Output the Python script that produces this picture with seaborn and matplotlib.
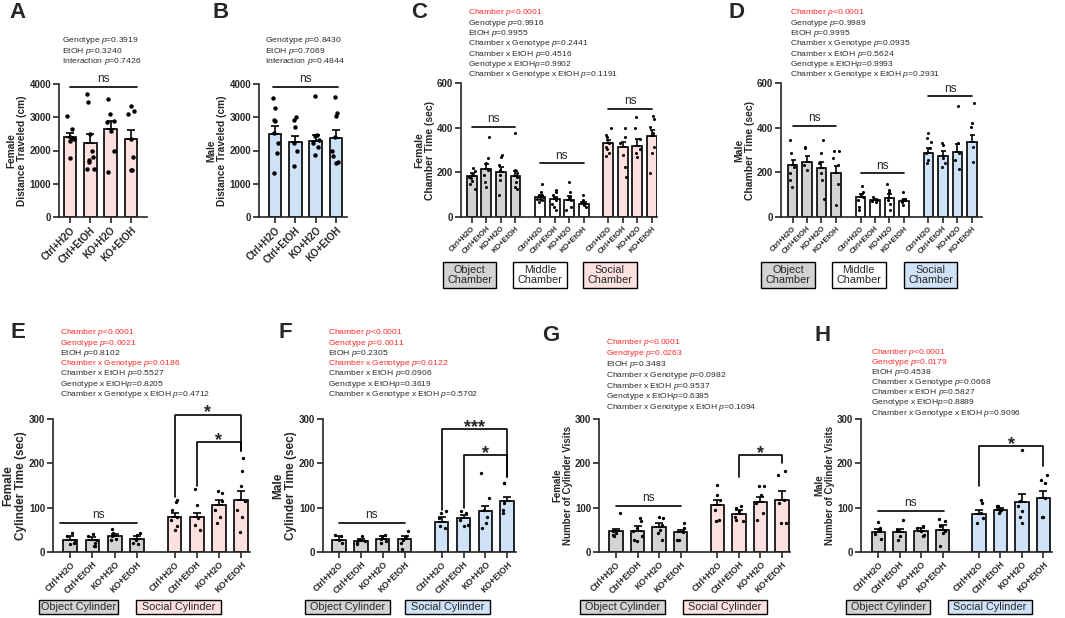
import numpy as np
import pandas as pd
import matplotlib
matplotlib.use('Agg')
import matplotlib.pyplot as plt
from matplotlib.patches import Rectangle
import seaborn as sns

groups = ['Ctrl+H2O', 'Ctrl+EtOH', 'KO+H2O', 'KO+EtOH']

# A - female distance traveled
a_mean = [2400, 2230, 2650, 2350]
a_sem = [130, 270, 230, 280]
a_pts = [[3050, 2650, 2400, 2380, 2350, 2300, 1780],
         [3700, 3450, 2500, 2000, 1800, 1650, 1450, 1700, 1450],
         [3550, 3100, 2900, 2850, 2600, 2000, 1350],
         [3350, 3200, 3100, 2350, 1800, 1400, 1400]]
a_stats = ['Genotype $p$=0.3919', 'EtOH $p$=0.3240', 'Interaction $p$=0.7426']

# B - male distance traveled
b_mean = [2490, 2250, 2300, 2370]
b_sem = [250, 190, 170, 250]
b_pts = [[3580, 3280, 2920, 2900, 2520, 2220, 1920, 1330],
         [3000, 2920, 2720, 2220, 1970, 1540],
         [3650, 2470, 2440, 2320, 2220, 2120, 1860],
         [3610, 3120, 3040, 2420, 2000, 1840, 1660, 1610]]
b_stats = ['Genotype $p$=0.8430', 'EtOH $p$=0.7069', 'Interaction $p$=0.4844']

# C - female chamber time (object / middle / social)
c_mean = [183, 217, 200, 183, 90, 80, 78, 60, 330, 315, 320, 363]
c_sem = [15, 22, 25, 25, 8, 10, 15, 7, 15, 22, 30, 27]
c_pts = [[220, 205, 190, 180, 175, 160, 150, 125],
         [360, 262, 240, 210, 187, 157, 135],
         [277, 270, 232, 210, 187, 165, 100],
         [378, 210, 195, 180, 157, 135, 127],
         [150, 112, 97, 90, 82, 75, 67, 80],
         [123, 112, 97, 75, 60, 45, 33],
         [157, 112, 90, 75, 45, 30],
         [97, 78, 67, 60, 52, 45],
         [397, 367, 360, 330, 315, 303, 285, 273],
         [397, 360, 330, 277, 225, 180],
         [447, 400, 348, 303, 285, 270],
         [453, 438, 405, 375, 315, 285, 195]]
c_stats = ['Chamber $p$<0.0001', 'Genotype $p$=0.9916', 'EtOH $p$=0.9955',
           'Chamber x Genotype $p$=0.2441', 'Chamber x EtOH $p$=0.4516',
           'Genotype x EtOH$p$=0.9902', 'Chamber x Genotype x EtOH $p$=0.1191']
c_red = [1, 0, 0, 0, 0, 0, 0]

# D - male chamber time
d_mean = [232, 247, 220, 198, 90, 75, 87, 70, 285, 274, 292, 337]
d_sem = [23, 26, 25, 31, 15, 5, 18, 12, 22, 21, 35, 30]
d_pts = [[345, 285, 225, 195, 165, 135],
         [307, 315, 232, 210],
         [345, 285, 240, 195, 165, 82],
         [295, 295, 262, 232, 150, 52],
         [138, 112, 105, 90, 75, 45, 30],
         [90, 78, 70, 67],
         [150, 120, 112, 75, 60, 30],
         [112, 82, 75, 67, 52],
         [375, 352, 337, 307, 285, 255, 240],
         [322, 330, 262, 240, 225],
         [498, 330, 285, 255, 217],
         [510, 423, 405, 315, 247]]
d_stats = ['Chamber $p$<0.0001', 'Genotype $p$=0.9989', 'EtOH $p$=0.9995',
           'Chamber x Genotype $p$=0.0935', 'Chamber x EtOH $p$=0.5624',
           'Genotype x EtOH$p$=0.9993', 'Chamber x Genotype x EtOH $p$=0.2931']
d_red = [1, 0, 0, 0, 0, 0, 0]

# E - female cylinder time
e_mean = [28, 28, 35, 29, 79, 79, 107, 118]
e_sem = [7, 5, 6, 8, 10, 10, 11, 19]
e_pts = [[43, 35, 28, 20, 17],
         [41, 35, 28, 20, 13, 14],
         [52, 43, 35, 29, 28],
         [43, 39, 28, 20, 17],
         [118, 112, 95, 80, 73, 58, 50],
         [141, 105, 77, 62, 50],
         [137, 133, 114, 95, 80, 65],
         [212, 182, 148, 114, 95, 80, 44]]
e_stats = ['Chamber $p$<0.0001', 'Genotype $p$=0.0021', 'EtOH $p$=0.8102',
           'Chamber x Genotype $p$=0.0186', 'Chamber x EtOH $p$=0.5527',
           'Genotype x EtOH$p$=0.8205', 'Chamber x Genotype x EtOH $p$=0.4712']
e_red = [1, 1, 0, 1, 0, 0, 0]

# F - male cylinder time
f_mean = [28, 24, 29, 29, 68, 77, 92, 116]
f_sem = [7, 5, 6, 8, 11, 7, 12, 9]
f_pts = [[39, 35, 28, 20],
         [35, 28, 24, 20, 17],
         [39, 37, 29, 24, 20],
         [47, 37, 28, 20, 7],
         [92, 88, 77, 58, 54],
         [92, 88, 73, 62, 58],
         [179, 122, 95, 80, 65, 54],
         [155, 155, 110, 95, 88]]
f_stats = ['Chamber $p$<0.0001', 'Genotype $p$=0.0011', 'EtOH $p$=0.2305',
           'Chamber x Genotype $p$=0.0122', 'Chamber x EtOH $p$=0.0906',
           'Genotype x EtOH$p$=0.3619', 'Chamber x Genotype x EtOH $p$=0.5702']
f_red = [1, 1, 0, 1, 0, 0, 0]

# G - female cylinder visits
g_mean = [47, 47, 56, 44, 107, 86, 113, 118]
g_sem = [6, 11, 9, 6, 11, 9, 12, 19]
g_pts = [[89, 47, 43, 39, 35],
         [77, 69, 54, 47, 35, 28, 24],
         [80, 77, 62, 50, 43, 28],
         [65, 54, 44, 28, 28],
         [152, 129, 118, 95, 73, 69],
         [103, 99, 92, 80, 73, 71],
         [148, 148, 129, 110, 88, 73],
         [182, 174, 118, 110, 65, 65]]
g_stats = ['Chamber $p$<0.0001', 'Genotype $p$=0.0263', 'EtOH $p$=0.3483',
           'Chamber x Genotype $p$=0.0982', 'Chamber x EtOH $p$=0.9537',
           'Genotype x EtOH$p$=0.6385', 'Chamber x Genotype x EtOH $p$=0.1094']
g_red = [1, 1, 0, 0, 0, 0, 0]

# H - male cylinder visits
h_mean = [45, 44, 47, 50, 86, 94, 113, 122]
h_sem = [7, 8, 7, 12, 9, 5, 18, 15]
h_pts = [[68, 54, 50, 41, 29],
         [73, 50, 35, 28],
         [58, 54, 47, 39, 37],
         [74, 71, 58, 47, 43, 13],
         [118, 110, 88, 77, 65],
         [104, 103, 95, 92, 88],
         [230, 114, 103, 92, 80, 65],
         [174, 163, 155, 122, 80, 80]]
h_stats = ['Chamber $p$<0.0001', 'Genotype $p$=0.0179', 'EtOH $p$=0.4538',
           'Chamber x Genotype $p$=0.0668', 'Chamber x EtOH $p$=0.5827',
           'Genotype x EtOH$p$=0.8889', 'Chamber x Genotype x EtOH $p$=0.9096']
h_red = [1, 1, 0, 0, 0, 0, 0]

PINK = '#fde1e1'
BLUE = '#cfe2f7'
GREY = '#d3d3d3'
WHITE = '#ffffff'
RED = '#ff2a2a'
TXT = '#2b2b2b'

pos4 = [0, 1, 2, 3]
pos8 = [0, 1, 2, 3, 4.7, 5.7, 6.7, 7.7]
pos12 = pos8 + [9.4, 10.4, 11.4, 12.4]

sns.set_style('ticks')
plt.rcParams['font.family'] = ['Liberation Sans', 'DejaVu Sans']
plt.rcParams['mathtext.fontset'] = 'custom'
plt.rcParams['mathtext.it'] = 'Liberation Sans:italic'
plt.rcParams['mathtext.rm'] = 'Liberation Sans'
plt.rcParams['axes.linewidth'] = 1.2
np.random.seed(7)

W, H = 1065, 618
fig = plt.figure(figsize=(W / 100, H / 100), dpi=100)


def draw_panel(box, pos, means, sems, pts, fills, xlim, ymax, ystep, ylabel,
               width=0.62, ms=2.4, cap=2.8, xfs=6.2, yfs=7, lfs=8):
    l, t, r, b = box
    ax = fig.add_axes([l / W, 1 - b / H, (r - l) / W, (b - t) / H])
    bars = pd.DataFrame({'pos': pos, 'mean': means, 'fill': fills})
    sns.barplot(data=bars, x='pos', y='mean', hue='fill', palette={c: c for c in fills},
                native_scale=True, dodge=False, width=width, saturation=1,
                edgecolor='black', linewidth=1.2, errorbar=None, legend=False,
                ax=ax, zorder=2)
    ax.errorbar(pos, means, yerr=[np.zeros(len(pos)), sems], fmt='none', ecolor='black',
                elinewidth=1.2, capsize=cap, capthick=1.2, zorder=3)
    dots = pd.DataFrame({'pos': np.repeat(pos, [len(p) for p in pts]),
                         'val': np.concatenate(pts)})
    sns.stripplot(data=dots, x='pos', y='val', native_scale=True, jitter=0.2,
                  color='black', size=ms, linewidth=0, ax=ax, zorder=4)
    ax.set_xlim(*xlim)
    ax.set_ylim(0, ymax)
    ax.set_yticks(np.arange(0, ymax + 1, ystep))
    ax.set_xticks(pos)
    ax.set_xticklabels(groups * (len(pos) // 4), rotation=45, ha='right',
                       rotation_mode='anchor', fontweight='bold', fontsize=xfs)
    for lab in ax.get_yticklabels():
        lab.set_fontweight('bold')
        lab.set_fontsize(yfs)
    ax.tick_params(width=1.2, length=4.2, pad=1.5)
    ax.set_xlabel('')
    ax.set_ylabel(ylabel, fontweight='bold', fontsize=lfs, linespacing=1.1, labelpad=1.5)
    sns.despine(ax=ax)
    return ax


def ns_line(ax, x1, x2, y, fs=8.5):
    ax.plot([x1, x2], [y, y], color='black', lw=1.2, clip_on=False)
    ax.annotate('ns', ((x1 + x2) / 2, y), xytext=(0, 3.5), textcoords='offset points',
                ha='center', va='baseline', fontsize=fs, annotation_clip=False)


def bracket(ax, x1, x2, top, lo1, lo2, star):
    ax.plot([x1, x1, x2, x2], [lo1, top, top, lo2], color='black', lw=1.2, clip_on=False)
    ax.annotate(star, ((x1 + x2) / 2, top), xytext=(0, -2), textcoords='offset points',
                ha='center', va='baseline', fontsize=13, fontweight='bold',
                annotation_clip=False)


def group_box(ax, x, text, color, w, h, y, fs=7.8):
    trans = ax.get_xaxis_transform()
    ax.add_patch(Rectangle((x - w / 2, y - h / 2), w, h, transform=trans, fc=color,
                           ec='black', lw=1, clip_on=False))
    ax.text(x, y, text, transform=trans, ha='center', va='center', fontsize=fs,
            linespacing=1.0)


def stats(x, y0, lines, reds=None, step=10.3):
    reds = reds or [0] * len(lines)
    for i, (s, r) in enumerate(zip(lines, reds)):
        fig.text(x / W, 1 - (y0 + i * step) / H, s, color=RED if r else TXT,
                 fontsize=6.1, ha='left', va='center')


def letter(x, y, s):
    fig.text(x / W, 1 - y / H, s, fontsize=16, fontweight='bold', ha='left', va='top')


# A
ax = draw_panel((59, 84, 147, 217), pos4, a_mean, a_sem, a_pts, [PINK] * 4, (-0.55, 3.8),
                4000, 1000, 'Female\nDistance Traveled (cm)', ms=3.2, xfs=7, lfs=7.3)
ns_line(ax, 0, 3.3, 3910)
stats(62, 41, a_stats)
letter(9, 2, 'A')

# B
ax = draw_panel((259, 84, 347, 217), pos4, b_mean, b_sem, b_pts, [BLUE] * 4, (-0.8, 3.55),
                4000, 1000, 'Male\nDistance Traveled (cm)', ms=3.2, xfs=7, lfs=7.3)
ns_line(ax, -0.1, 3.1, 3910)
stats(265, 41, b_stats)
letter(212, 2, 'B')

# C
ax = draw_panel((461, 83, 657, 217), pos12, c_mean, c_sem, c_pts,
                [GREY] * 4 + [WHITE] * 4 + [PINK] * 4, (-0.75, 12.75),
                600, 200, 'Female\nChamber Time (sec)', width=0.68, ms=2.2, cap=1.8,
                xfs=5.4, yfs=7, lfs=7.5)
ns_line(ax, 0, 3, 405)
ns_line(ax, 4.7, 7.7, 240)
ns_line(ax, 9.4, 12.4, 483)
group_box(ax, -0.16, 'Object\nChamber', GREY, 3.7, 0.19, -0.433)
group_box(ax, 4.7, 'Middle\nChamber', WHITE, 3.7, 0.19, -0.433)
group_box(ax, 9.49, 'Social\nChamber', PINK, 3.7, 0.19, -0.433)
stats(468, 13, c_stats, c_red)
letter(411, 2, 'C')

# D
ax = draw_panel((781, 83, 982, 217), pos12, d_mean, d_sem, d_pts,
                [GREY] * 4 + [WHITE] * 4 + [BLUE] * 4, (-0.8, 13.1),
                600, 200, 'Male\nChamber Time (sec)', width=0.68, ms=2.2, cap=1.8,
                xfs=5.4, yfs=7, lfs=7.5)
ns_line(ax, 0, 3, 408)
ns_line(ax, 4.7, 7.7, 195)
ns_line(ax, 9.4, 12.4, 540)
group_box(ax, -0.32, 'Object\nChamber', GREY, 3.7, 0.19, -0.433)
group_box(ax, 4.58, 'Middle\nChamber', WHITE, 3.7, 0.19, -0.433)
group_box(ax, 9.54, 'Social\nChamber', BLUE, 3.7, 0.19, -0.433)
stats(790, 13, d_stats, d_red)
letter(729, 2, 'D')

# E
ax = draw_panel((53, 419, 250, 552), pos8, e_mean, e_sem, e_pts, [GREY] * 4 + [PINK] * 4,
                (-0.78, 8.1), 300, 100, 'Female\nCylinder Time (sec)', lfs=8.5)
ns_line(ax, -0.45, 3, 65)
bracket(ax, 4.7, 7.7, 310, 125, 227, '*')
bracket(ax, 5.7, 7.7, 248, 150, 227, '*')
group_box(ax, 0.36, 'Object Cylinder', GREY, 3.55, 0.105, -0.414)
group_box(ax, 4.88, 'Social Cylinder', PINK, 3.85, 0.105, -0.414)
stats(60, 333, e_stats, e_red, step=10.2)
letter(11, 322, 'E')

# F
ax = draw_panel((323, 419, 516, 552), pos8, f_mean, f_sem, f_pts, [GREY] * 4 + [BLUE] * 4,
                (-0.73, 8.1), 300, 100, 'Male\nCylinder Time (sec)', lfs=8.5)
ns_line(ax, 0, 3, 65)
bracket(ax, 4.7, 7.7, 277, 95, 170, '***')
bracket(ax, 5.7, 7.7, 218, 99, 170, '*')
group_box(ax, 0.39, 'Object Cylinder', GREY, 3.9, 0.105, -0.414)
group_box(ax, 4.95, 'Social Cylinder', BLUE, 3.9, 0.105, -0.414)
stats(328, 333, f_stats, f_red, step=10.2)
letter(279, 322, 'F')

# G
ax = draw_panel((599, 419, 790, 552), pos8, g_mean, g_sem, g_pts, [GREY] * 4 + [PINK] * 4,
                (-0.79, 8.07), 300, 100, 'Female\nNumber of Cylinder Visits', lfs=7)
ns_line(ax, 0, 3, 103)
bracket(ax, 5.7, 7.7, 218, 170, 200, '*')
group_box(ax, 0.3, 'Object Cylinder', GREY, 3.9, 0.105, -0.414)
group_box(ax, 5.04, 'Social Cylinder', PINK, 3.9, 0.105, -0.414)
stats(606, 343, g_stats, g_red, step=10.8)
letter(542, 325, 'G')

# H
ax = draw_panel((861, 419, 1052, 552), pos8, h_mean, h_sem, h_pts, [GREY] * 4 + [BLUE] * 4,
                (-0.8, 8.1), 300, 100, 'Male\nNumber of Cylinder Visits', lfs=7)
ns_line(ax, 0, 3.05, 92)
bracket(ax, 4.7, 7.7, 239, 148, 193, '*')
group_box(ax, 0.47, 'Object Cylinder', GREY, 3.9, 0.105, -0.414)
group_box(ax, 5.2, 'Social Cylinder', BLUE, 3.9, 0.105, -0.414)
stats(871, 352, h_stats, h_red, step=10.2)
letter(814, 325, 'H')

fig.savefig('out.png', dpi=100)
